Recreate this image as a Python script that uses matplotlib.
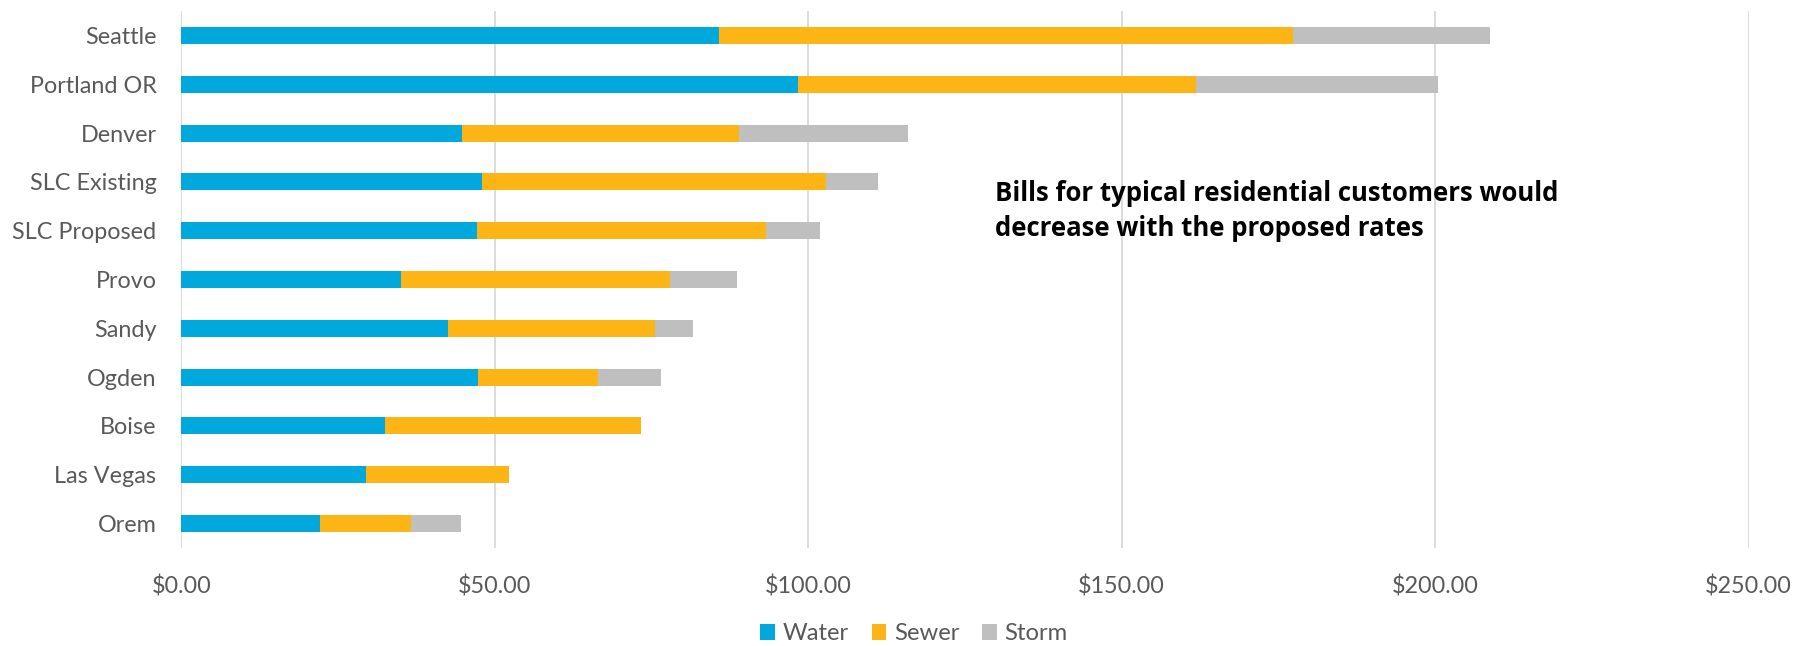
import matplotlib
matplotlib.use("Agg")
import matplotlib.pyplot as plt
from matplotlib.patches import Patch
from matplotlib.ticker import FuncFormatter, MultipleLocator
import numpy as np

# Monthly utility bill components by city (USD)
cities = ["Seattle", "Portland OR", "Denver", "SLC Existing", "SLC Proposed",
          "Provo", "Sandy", "Ogden", "Boise", "Las Vegas", "Orem"]
water = [85.76, 98.40, 44.76, 47.96, 47.13, 34.96, 42.56, 47.32, 32.49, 29.47, 22.05]
sewer = [91.50, 63.40, 44.20, 54.84, 46.14, 42.93, 33.04, 19.13, 40.81, 22.79, 14.55]
storm = [31.50, 38.60, 27.00, 8.40, 8.63, 10.71, 6.05, 10.05, 0.00, 0.00, 8.06]

series_names = ["Water", "Sewer", "Storm"]
colors = ["#00A8DC", "#FDB516", "#BFBFBF"]
note = "Bills for typical residential customers would\ndecrease with the proposed rates"

FONT = ["Lato", "DejaVu Sans"]
NOTE_FONT = ["Open Sans", "DejaVu Sans"]
TEXT_GRAY = "#595959"
GRID_GRAY = "#D9D9D9"

W, H = 1807, 646
fig = plt.figure(figsize=(W / 100, H / 100), dpi=100)
ax = fig.add_axes([181.4 / W, 1 - 548 / H, (1748.6 - 181.4) / W, (548 - 11) / H])

y = np.arange(len(cities))
bar_h = 0.35
left = np.zeros(len(cities))
for vals, name, col in zip([water, sewer, storm], series_names, colors):
    vals = np.asarray(vals)
    ax.barh(y, vals, left=left, height=bar_h, color=col, label=name, zorder=3)
    left = left + vals

ax.set_xlim(0, 250)
ax.set_ylim(len(cities) - 0.5, -0.5)
ax.xaxis.set_major_locator(MultipleLocator(50))
ax.xaxis.set_major_formatter(FuncFormatter(lambda v, p: r"\$" + f"{v:.2f}"))
ax.set_yticks(y)
ax.set_yticklabels(cities)

ax.grid(axis="x", color=GRID_GRAY, linewidth=1.3, zorder=0)
ax.grid(axis="y", visible=False)
for s in ax.spines.values():
    s.set_visible(False)
ax.tick_params(axis="both", length=0, labelcolor=TEXT_GRAY, labelsize=16.8)
ax.tick_params(axis="y", pad=18)
ax.tick_params(axis="x", pad=19.5)
for lbl in ax.get_xticklabels() + ax.get_yticklabels():
    lbl.set_family(FONT)

handles = [Patch(facecolor=c, edgecolor="none", label=n) for n, c in zip(series_names, colors)]
leg = fig.legend(handles=handles, loc="center", ncol=3, frameon=False,
                 bbox_to_anchor=(914 / W, 1 - 634 / H), bbox_transform=fig.transFigure,
                 handlelength=0.62, handleheight=0.62, handletextpad=0.32,
                 columnspacing=0.95, prop={"family": FONT, "size": 17.2})
for t in leg.get_texts():
    t.set_color(TEXT_GRAY)

fig.text(995 / W, 1 - 236 / H, note, ha="left", va="baseline", fontsize=18.5,
         fontweight="bold", family=NOTE_FONT, color="black", linespacing=1.38)

fig.savefig("out.png", dpi=100, facecolor="white")
